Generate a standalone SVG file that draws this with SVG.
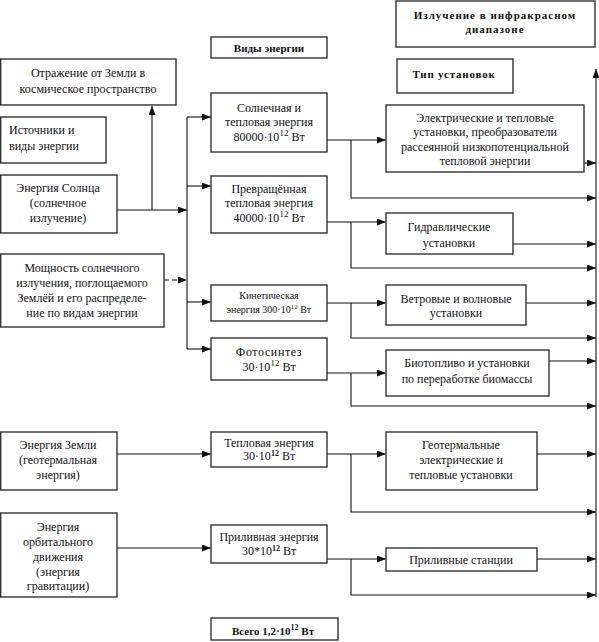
<svg xmlns="http://www.w3.org/2000/svg" width="599" height="642" viewBox="0 0 599 642" font-family="'Liberation Serif', Tinos, 'DejaVu Serif', serif">
<defs>
<marker id="ah" markerUnits="userSpaceOnUse" markerWidth="9" markerHeight="7" refX="9" refY="3.5" orient="auto">
<path d="M0,0 L9,3.5 L0,7 z" fill="#111"/>
</marker>
<style>
.box{fill:#fff;stroke:#333;stroke-width:1.4}
text{font-family:'Liberation Serif', Tinos, 'DejaVu Serif', serif;font-size:12px;fill:#111;text-anchor:middle}
.b{font-weight:bold;font-size:11px}
.s{font-size:10px}
.l{text-anchor:start}
.c line,.c path{stroke:#111;stroke-width:1.1;fill:none}
.a{marker-end:url(#ah)}
.d{stroke-dasharray:5,3}
</style>
</defs>
<rect width="599" height="642" fill="#fff"/>

<g class="c" id="connectors">
<line class="a" x1="117" y1="210" x2="187" y2="210"/>
<line class="a" x1="152" y1="210" x2="152" y2="106"/>
<line x1="187" y1="117" x2="187" y2="349"/>
<line class="a" x1="187" y1="117" x2="211" y2="117"/>
<line class="a" x1="187" y1="186" x2="211" y2="186"/>
<line class="a" x1="187" y1="302" x2="211" y2="302"/>
<line class="a" x1="187" y1="349" x2="211" y2="349"/>
<line class="a d" x1="164" y1="280" x2="187" y2="280"/>
<line class="a" x1="117" y1="454" x2="211" y2="454"/>
<line class="a" x1="117" y1="548" x2="211" y2="548"/>
<line class="a" x1="327" y1="140" x2="386" y2="140"/>
<path class="a" d="M351,140 V198 H596"/>
<line class="a" x1="327" y1="222" x2="386" y2="222"/>
<path class="a" d="M351,222 V268 H596"/>
<line class="a" x1="327" y1="303" x2="386" y2="303"/>
<path class="a" d="M351,303 V338 H596"/>
<line class="a" x1="327" y1="373" x2="386" y2="373"/>
<path class="a" d="M351,373 V406 H596"/>
<line class="a" x1="327" y1="454" x2="386" y2="454"/>
<path class="a" d="M351,454 V512 H596"/>
<line class="a" x1="327" y1="559" x2="386" y2="559"/>
<path class="a" d="M351,559 V595 H596"/>
<line class="a" x1="584" y1="163" x2="596" y2="163"/>
<line class="a" x1="513" y1="244" x2="596" y2="244"/>
<line class="a" x1="526" y1="303" x2="596" y2="303"/>
<line class="a" x1="549" y1="361" x2="596" y2="361"/>
<line class="a" x1="537" y1="454" x2="596" y2="454"/>
<line class="a" x1="537" y1="559" x2="596" y2="559"/>
<line class="a" x1="596" y1="597" x2="596" y2="69"/>
</g>

<g id="otrazhenie"><rect class="box" x="0.7" y="59" width="175.3" height="46"/>
<text x="88" y="77">Отражение  от Земли в</text><text x="88" y="93">космическое пространство</text></g>

<g id="istochniki"><rect class="box" x="0.7" y="117" width="105.3" height="46"/>
<text class="l" x="9" y="134">Источники и</text><text class="l" x="9" y="150">виды энергии</text></g>

<g id="solntse"><rect class="box" x="0.7" y="175" width="116.3" height="58"/>
<text x="58" y="192">Энергия Солнца</text><text x="58" y="207">(солнечное</text><text x="58" y="222">излучение)</text></g>

<g id="moshchnost"><rect class="box" x="0.7" y="254" width="163.3" height="73"/>
<text x="82" y="272">Мощность солнечного</text><text x="82" y="287">излучения, поглощаемого</text><text x="82" y="302">Землёй и его распределе-</text><text x="82" y="317">ние по видам энергии</text></g>

<g id="zemlya"><rect class="box" x="0.7" y="432" width="116.3" height="58"/>
<text x="58" y="449">Энергия Земли</text><text x="58" y="464">(геотермальная</text><text x="58" y="479">энергия)</text></g>

<g id="orbital"><rect class="box" x="0.7" y="513" width="116.3" height="84"/>
<text x="58" y="531">Энергия</text><text x="58" y="546">орбитального</text><text x="58" y="561">движения</text><text x="58" y="576">(энергия</text><text x="58" y="590">гравитации)</text></g>

<g id="vidy"><rect class="box" x="211" y="37" width="116" height="21"/>
<text class="b" x="269" y="52">Виды энергии</text></g>

<g id="solnechnaya"><rect class="box" x="211" y="93" width="116" height="59"/>
<text x="269" y="112">Солнечная и</text><text x="269" y="126">тепловая энергия</text><text x="269" y="141">80000·10<tspan font-size="9" dy="-5">12</tspan><tspan dy="5"> Вт</tspan></text></g>

<g id="prevrashch"><rect class="box" x="211" y="176" width="116" height="57"/>
<text x="269" y="193">Превращённая</text><text x="269" y="207">тепловая энергия</text><text x="269" y="222">40000·10<tspan font-size="9" dy="-5">12</tspan><tspan dy="5"> Вт</tspan></text></g>

<g id="kinet"><rect class="box" x="211" y="285" width="116" height="36"/>
<text class="s" x="269" y="299">Кинетическая</text><text class="s" x="269" y="313">энергия 300·10<tspan font-size="7" dy="-4">12</tspan><tspan dy="4"> Вт</tspan></text></g>

<g id="foto"><rect class="box" x="211" y="338" width="116" height="42"/>
<text x="269" y="356" letter-spacing="0.6">Фотосинтез</text><text x="269" y="371">30·10<tspan font-size="9" dy="-5">12</tspan><tspan dy="5"> Вт</tspan></text></g>

<g id="teplovaya"><rect class="box" x="211" y="432" width="116" height="35"/>
<text x="269" y="447">Тепловая энергия</text><text x="269" y="460">30·10<tspan font-size="8" font-weight="bold" dy="-4">12</tspan><tspan dy="4"> Вт</tspan></text></g>

<g id="prilivnaya"><rect class="box" x="211" y="525" width="116" height="38"/>
<text x="269" y="541">Приливная энергия</text><text x="269" y="555">30*10<tspan font-size="8" font-weight="bold" dy="-4">12</tspan><tspan dy="4"> Вт</tspan></text></g>

<g id="vsego"><rect class="box" x="211" y="618" width="127" height="22"/>
<text class="b" x="273" y="635" font-size="12">Всего 1,2·10<tspan font-size="8" dy="-5">12</tspan><tspan dy="5"> Вт</tspan></text></g>

<g id="izluchenie"><rect class="box" x="396" y="1" width="199" height="46"/>
<text class="b" x="495" y="19" letter-spacing="1">Излучение в инфракрасном</text><text class="b" x="495" y="33" letter-spacing="1">диапазоне</text></g>

<g id="tip"><rect class="box" x="397" y="59" width="116" height="34"/>
<text class="b" x="454" y="78" letter-spacing="0.8">Тип установок</text></g>

<g id="elektr"><rect class="box" x="386" y="105" width="198" height="67"/>
<text x="485" y="122">Электрические и тепловые</text><text x="485" y="136">установки, преобразователи</text><text x="485" y="151">рассеянной низкопотенциальной</text><text x="485" y="165">тепловой энергии</text></g>

<g id="gidr"><rect class="box" x="386" y="213" width="127" height="41"/>
<text x="449" y="231">Гидравлические</text><text x="449" y="247">установки</text></g>

<g id="veter"><rect class="box" x="386" y="285" width="140" height="40"/>
<text x="456" y="303">Ветровые и волновые</text><text x="456" y="317">установки</text></g>

<g id="bio"><rect class="box" x="386" y="350" width="163" height="46"/>
<text x="467" y="367">Биотопливо и установки</text><text x="467" y="383">по переработке биомассы</text></g>

<g id="geoterm"><rect class="box" x="386" y="432" width="151" height="58"/>
<text x="461" y="449">Геотермальные</text><text x="461" y="464">электрические и</text><text x="461" y="479">тепловые установки</text></g>

<g id="prilivnye"><rect class="box" x="386" y="548" width="151" height="23"/>
<text x="461" y="564">Приливные станции</text></g>
</svg>
